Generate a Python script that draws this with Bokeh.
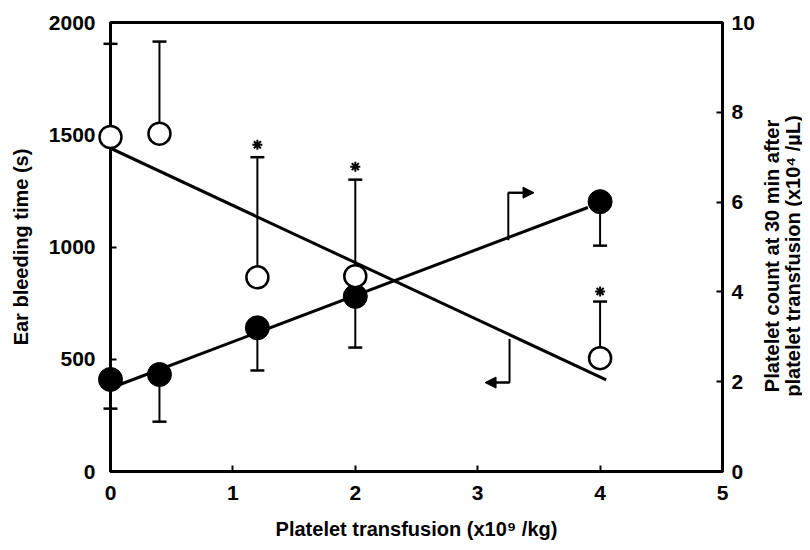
import math
from bokeh.plotting import figure
from bokeh.layouts import row
from bokeh.models import Range1d, LinearAxis, FixedTicker, Arrow, NormalHead
from bokeh.core.properties import value
from bokeh.embed import file_html
from bokeh.resources import INLINE

# ---- data ----
dose = [0, 0.4, 1.2, 2, 4]
bleeding_time = [1490, 1505, 865, 870, 505]
bleeding_upper = [1905, 1915, 1400, 1300, 757]
platelet_count = [2.05, 2.16, 3.2, 3.9, 6.01]
platelet_lower = [1.40, 1.11, 2.25, 2.76, 5.03]

sig_dose = [1.2, 2, 4]
sig_y = [1455, 1358, 802]

bt_fit_x = [0, 4.05]
bt_fit_y = [1440, 408]
pc_fit_x = [0.05, 3.9]
pc_fit_y = [1.91, 5.88]

# arrow annotations (L-shaped pointers)
arrow_r_x = [3.25, 3.25, 3.42]
arrow_r_y = [5.15, 6.21, 6.21]
arrow_l_x = [3.26, 3.26, 3.10]
arrow_l_y = [590, 396, 396]

x_ticks = [0, 1, 2, 3, 4, 5]
left_ticks = [0, 500, 1000, 1500, 2000]
right_ticks = [0, 2, 4, 6, 8, 10]

x_label = "Platelet transfusion (x10\u2079 /kg)"
left_label = "Ear bleeding time (s)"
right_label_lines = ["Platelet count at 30 min after",
                     "platelet transfusion (x10\u2074 /\u00b5L)"]

FONT = "Liberation Sans"
H = 549
TOP = 22
BOTTOM = 78

p = figure(width=758, height=H, output_backend="svg", toolbar_location=None,
           x_range=Range1d(0, 5), y_range=Range1d(0, 2000),
           min_border_left=110, min_border_right=36, min_border_top=TOP,
           min_border_bottom=BOTTOM)
p.extra_y_ranges = {"pc": Range1d(0, 10)}
p.xgrid.visible = False
p.ygrid.visible = False
p.outline_line_color = "black"
p.outline_line_width = 3
p.outline_line_alpha = 1

def style_axis(ax):
    ax.axis_line_width = 3
    ax.axis_line_color = "black"
    ax.major_tick_in = 6
    ax.major_tick_out = 0
    ax.major_tick_line_width = 2
    ax.minor_tick_line_color = None
    ax.major_label_text_font = FONT
    ax.major_label_text_font_style = "bold"
    ax.major_label_text_font_size = "21px"
    ax.major_label_text_color = "black"
    ax.axis_label_text_font = FONT
    ax.axis_label_text_font_style = "bold"
    ax.axis_label_text_font_size = "20px"
    ax.axis_label_text_color = "black"

xa = p.xaxis[0]
xa.ticker = FixedTicker(ticks=x_ticks)
xa.axis_label = x_label
style_axis(xa)
xa.major_label_standoff = 14
xa.axis_label_standoff = 15

ya = p.yaxis[0]
ya.ticker = FixedTicker(ticks=left_ticks)
ya.axis_label = left_label
style_axis(ya)
ya.major_label_standoff = 15
ya.axis_label_standoff = 14

ra = LinearAxis(y_range_name="pc", ticker=FixedTicker(ticks=right_ticks))
style_axis(ra)
ra.major_label_standoff = 9
p.add_layout(ra, "right")

OV = "overlay"

# regression lines
p.line(bt_fit_x, bt_fit_y, line_color="black", line_width=3)
p.line(pc_fit_x, pc_fit_y, line_color="black", line_width=3, y_range_name="pc")

# error bars: bleeding time (upper), platelet count (lower)
p.segment(x0=dose, y0=bleeding_time, x1=dose, y1=bleeding_upper, line_color="black",
          line_width=2, level=OV)
p.scatter(dose, bleeding_upper, marker="dash", size=14, line_color="black", line_width=2.5,
          level=OV)
p.segment(x0=dose, y0=platelet_count, x1=dose, y1=platelet_lower, line_color="black",
          line_width=2, y_range_name="pc", level=OV)
p.scatter(dose, platelet_lower, marker="dash", size=14, line_color="black", line_width=2.5,
          y_range_name="pc", level=OV)

# markers
p.scatter(dose, platelet_count, marker="circle", size=24, fill_color="black",
          line_color="black", y_range_name="pc", level=OV)
p.scatter(dose, bleeding_time, marker="circle", size=22, fill_color="white",
          line_color="black", line_width=2.5, level=OV)

# significance asterisks
p.scatter(sig_dose, sig_y, marker="asterisk", size=10, line_color="black", line_width=2)

# pointer arrows
p.line(arrow_r_x, arrow_r_y, line_color="black", line_width=2, y_range_name="pc")
p.add_layout(Arrow(end=NormalHead(size=11, fill_color="black", line_color="black"),
                   x_start=arrow_r_x[1], y_start=arrow_r_y[1], x_end=arrow_r_x[2] + 0.04,
                   y_end=arrow_r_y[2], line_width=2, y_range_name="pc"))
p.line(arrow_l_x, arrow_l_y, line_color="black", line_width=2)
p.add_layout(Arrow(end=NormalHead(size=11, fill_color="black", line_color="black"),
                   x_start=arrow_l_x[1], y_start=arrow_l_y[1], x_end=arrow_l_x[2] - 0.04,
                   y_end=arrow_l_y[2], line_width=2))

# right-hand axis title, drawn in a narrow strip beside the chart (reads bottom-to-top)
t = figure(width=44, height=H, output_backend="svg", toolbar_location=None,
           x_range=Range1d(0, 44), y_range=Range1d(0, 2000),
           x_axis_type=None, y_axis_type=None,
           min_border_left=0, min_border_right=0, min_border_top=TOP,
           min_border_bottom=BOTTOM)
t.xgrid.visible = False
t.ygrid.visible = False
t.outline_line_color = None
t.text(x=[13, 34], y=[960, 960], text=right_label_lines, angle=math.pi / 2,
       text_align="center", text_baseline="middle", text_font=value(FONT),
       text_font_style="bold", text_font_size="20px", text_color="black", level=OV)

layout = row(p, t, spacing=0)
open("out.html", "w").write(file_html(layout, INLINE))
